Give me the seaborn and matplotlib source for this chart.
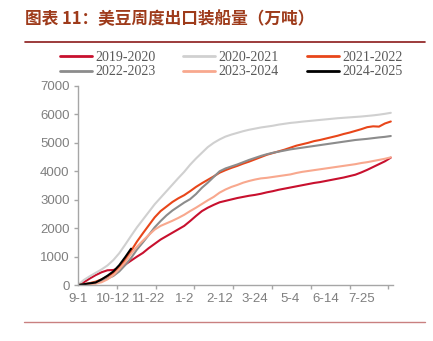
import numpy as np
import pandas as pd
import matplotlib
matplotlib.use("Agg")
import matplotlib.pyplot as plt
import seaborn as sns

title = "图表 11：美豆周度出口装船量（万吨）"
tick_labels = ["9-1", "10-12", "11-22", "1-2", "2-12", "3-24", "5-4", "6-14", "7-25"]
seasons = ["2019-2020", "2020-2021", "2021-2022", "2022-2023", "2023-2024", "2024-2025"]

s2019 = [0, 100, 230, 350, 450, 520, 530, 600, 720, 860, 1000, 1130, 1300, 1450, 1600, 1720,
         1840, 1960, 2080, 2250, 2430, 2600, 2720, 2820, 2910, 2960, 3010, 3060, 3100, 3140,
         3170, 3210, 3260, 3300, 3350, 3390, 3430, 3470, 3510, 3550, 3590, 3620, 3660, 3700,
         3740, 3780, 3830, 3880, 3960, 4050, 4150, 4250, 4350, 4480]
s2020 = [0, 180, 310, 430, 550, 690, 880, 1120, 1420, 1730, 2030, 2300, 2570, 2840, 3070, 3300,
         3530, 3760, 3980, 4230, 4450, 4650, 4850, 5000, 5120, 5220, 5290, 5350, 5410, 5460,
         5500, 5540, 5570, 5600, 5640, 5670, 5700, 5720, 5745, 5765, 5785, 5805, 5825, 5845,
         5865, 5880, 5895, 5910, 5925, 5945, 5965, 5990, 6020, 6055]
s2021 = [0, 30, 70, 120, 200, 300, 430, 620, 880, 1200, 1530, 1820, 2100, 2380, 2600, 2760,
         2920, 3050, 3160, 3300, 3450, 3580, 3700, 3820, 3950, 4040, 4120, 4190, 4270, 4340,
         4420, 4500, 4580, 4640, 4700, 4760, 4830, 4900, 4950, 5000, 5060, 5100, 5150, 5200,
         5250, 5310, 5360, 5420, 5480, 5550, 5580, 5570, 5680, 5750]
s2022 = [0, 20, 50, 90, 150, 230, 320, 480, 700, 950, 1250, 1500, 1760, 2030, 2250, 2450,
         2620, 2760, 2900, 3020, 3200, 3420, 3600, 3800, 4000, 4100, 4170, 4240, 4320, 4400,
         4470, 4540, 4600, 4650, 4690, 4730, 4770, 4800, 4830, 4860, 4890, 4920, 4950, 4980,
         5010, 5040, 5070, 5100, 5120, 5140, 5165, 5190, 5210, 5240]
s2023 = [0, 10, 30, 50, 100, 200, 350, 560, 800, 1100, 1350, 1560, 1760, 1950, 2080, 2170,
         2260, 2360, 2470, 2600, 2720, 2850, 2980, 3100, 3250, 3360, 3450, 3520, 3600, 3660,
         3710, 3750, 3770, 3800, 3830, 3860, 3890, 3940, 3980, 4010, 4040, 4070, 4100, 4130,
         4160, 4190, 4220, 4250, 4290, 4320, 4360, 4400, 4440, 4490]
s2024 = [0, 30, 60, 90, 200, 330, 480, 700, 980, 1280]

series = [s2019, s2020, s2021, s2022, s2023, s2024]
colors = ["#C8102E", "#D0D0D0", "#E8461A", "#8C8C8C", "#F8A88E", "#000000"]

rows = []
for name, vals in zip(seasons, series):
    for i, v in enumerate(vals):
        rows.append({"week": i, "value": v, "season": name})
df = pd.DataFrame(rows)

sns.set_theme(style="white")
plt.rcParams["font.family"] = ["Liberation Sans", "DejaVu Sans"]

fig = plt.figure(figsize=(4.33, 3.41), dpi=100)
ax = fig.add_axes([0.180, 0.164, 0.728, 0.584])

sns.lineplot(data=df, x="week", y="value", hue="season", hue_order=seasons,
             palette=dict(zip(seasons, colors)), linewidth=1.5, ax=ax, legend=False,
             estimator=None, sort=True)

ax.set_xlim(0, 53.4)
ax.set_ylim(0, 7000)
ax.set_yticks(range(0, 7001, 1000))
ax.set_yticklabels([str(v) for v in range(0, 7001, 1000)])
ax.set_xticks([6 * i for i in range(len(tick_labels))])
ax.set_xticklabels(tick_labels)
ax.set_xticks(np.linspace(0, 52.6, 9), minor=True)
ax.set_xlabel("")
ax.set_ylabel("")
ax.tick_params(axis="x", which="major", length=0, pad=6, labelsize=9.5, labelcolor="#7F7F7F")
ax.tick_params(axis="x", which="minor", length=3, width=1, color="#A6A6A6", direction="out", bottom=True)
ax.tick_params(axis="y", length=3, width=1, color="#A6A6A6", direction="out", left=True,
               labelsize=9.5, labelcolor="#7F7F7F", pad=3)
for sp in ["top", "right"]:
    ax.spines[sp].set_visible(False)
for sp in ["left", "bottom"]:
    ax.spines[sp].set_color("#A6A6A6")
    ax.spines[sp].set_linewidth(1)

# legend
handles = [plt.Line2D([], [], color=c, linewidth=2) for c in colors]
order = [0, 3, 1, 4, 2, 5]
fig.legend([handles[i] for i in order], [seasons[i] for i in order], ncol=3,
           loc="center", bbox_to_anchor=(0.534, 0.81), frameon=False,
           prop={"family": ["Liberation Serif"], "size": 10}, labelcolor="#595959",
           handlelength=2.3, handletextpad=0.25, columnspacing=2.0, labelspacing=0.1)

fig.text(0.058, 0.945, title, fontsize=12, fontweight="bold", color="#9E3B1B",
         family=["Noto Sans CJK SC", "DejaVu Sans"], va="center", ha="left")
fig.add_artist(plt.Line2D([0.058, 0.982], [0.877, 0.877], color="#8B1A1A", linewidth=1.2,
                          transform=fig.transFigure))
fig.add_artist(plt.Line2D([0.055, 0.982], [0.056, 0.056], color="#C98080", linewidth=1,
                          transform=fig.transFigure))

fig.savefig("out.png", dpi=100)
